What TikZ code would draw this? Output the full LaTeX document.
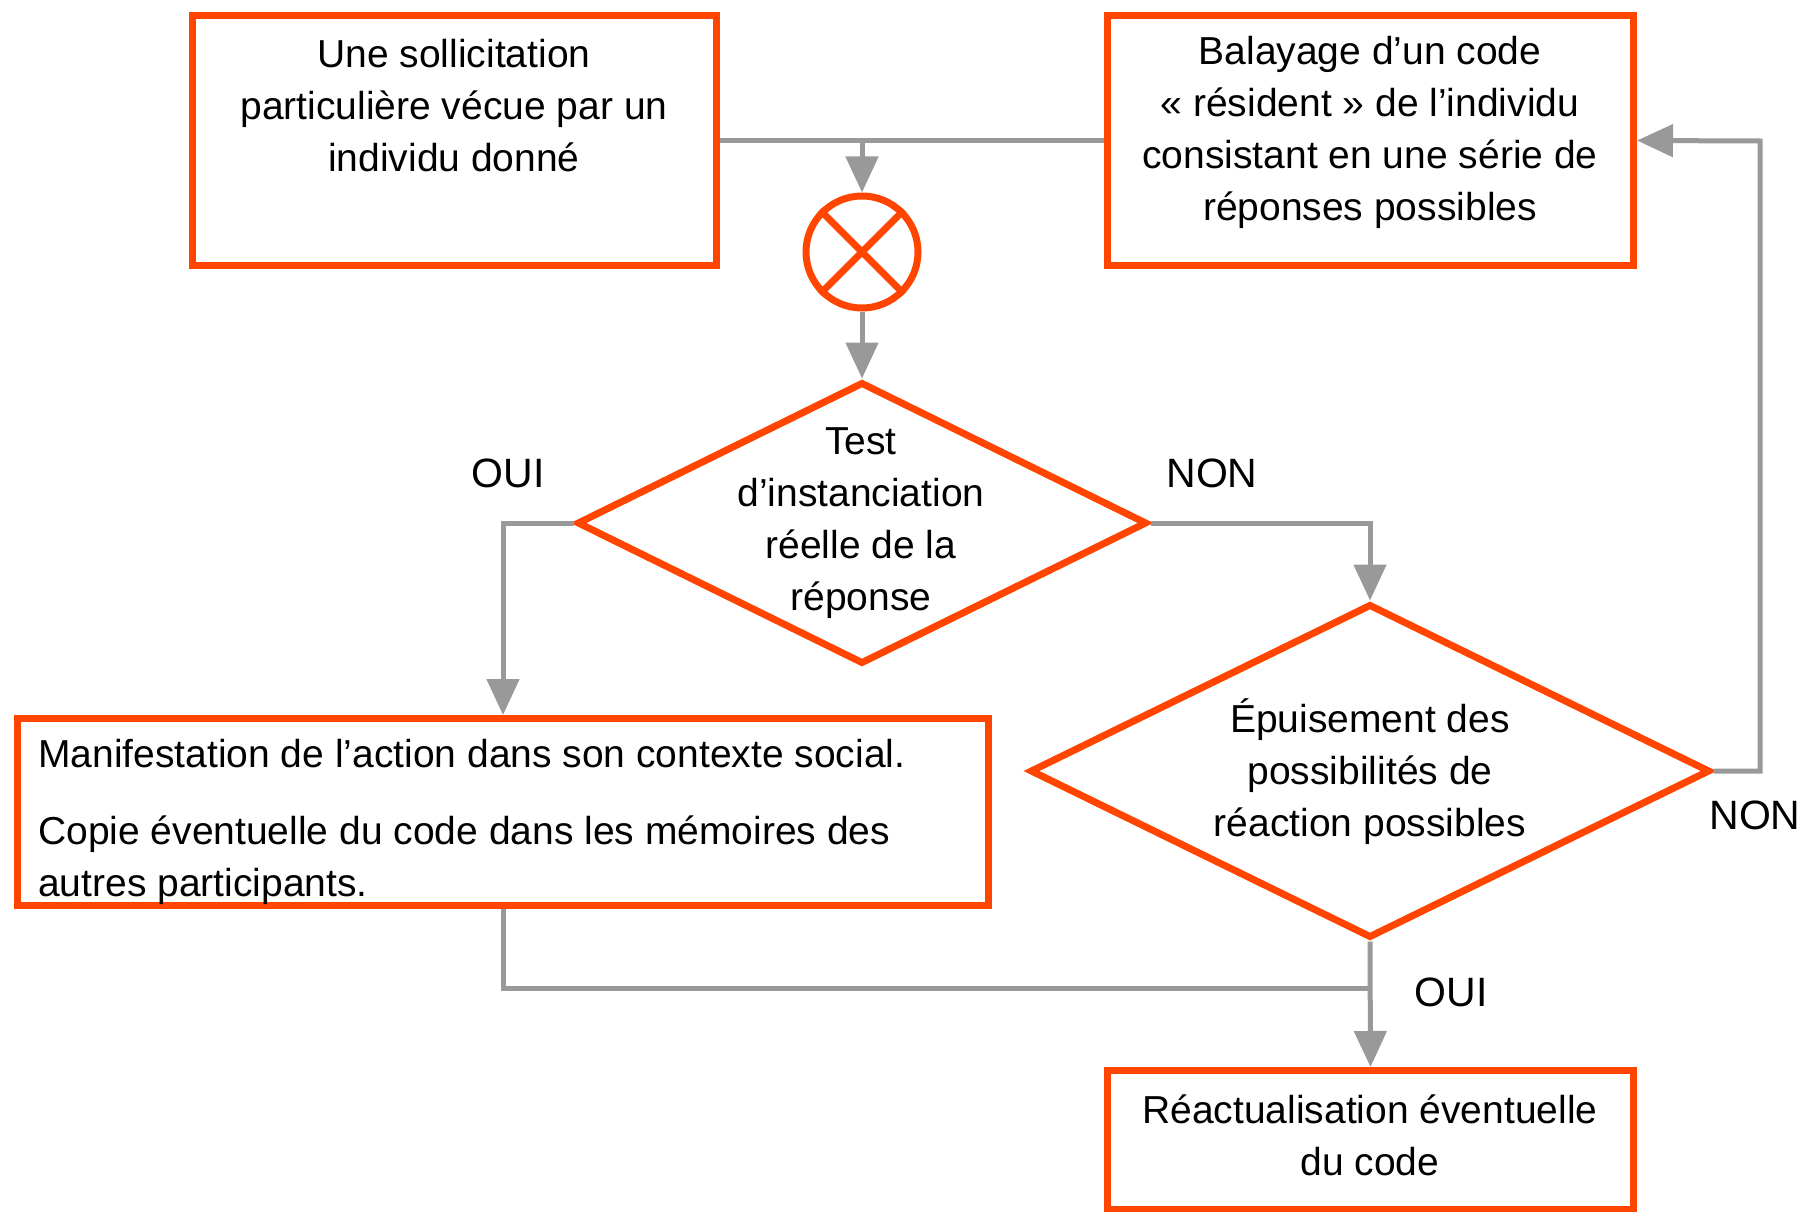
\documentclass[tikz,border=0pt]{standalone}
\usepackage{fontspec}
\setmainfont{Liberation Sans}
\usetikzlibrary{arrows.meta,shapes.geometric}
\definecolor{flamme}{HTML}{FF4500}
\definecolor{gris}{HTML}{999999}
\tikzset{
  boite/.style={draw=flamme,line width=7pt,rectangle,inner sep=0pt},
  losange/.style={draw=flamme,line width=7pt,diamond,inner sep=0pt},
  trait/.style={draw=gris,line width=5pt},
  fleche/.style={trait,-{Triangle[length=36pt,width=32pt]}},
  texte/.style={inner sep=0pt,align=center,font=\fontsize{39}{52}\selectfont},
  reponse/.style={inner sep=0pt,font=\fontsize{41}{46}\selectfont}
}
\begin{document}
\begin{tikzpicture}[x=1pt,y=-1pt]
      \useasboundingbox (0,0) rectangle (1808,1212);
      \node[boite,minimum width=524pt,minimum height=250pt] (sollic) at (454.5,140.5) {};
      \node[texte] at (454,106) {Une sollicitation\\particulière vécue par un\\individu donné};
      \node[boite,minimum width=526pt,minimum height=250pt] (balay) at (1370.5,140.5) {};
      \node[texte] at (1370,132) {Balayage d’un code\\« résident » de l’individu\\consistant en une série de\\réponses possibles};
      \node[circle,draw=flamme,line width=7pt,minimum size=112pt,inner sep=0pt] (croix) at (862,252) {};
      \draw[flamme,line width=7pt] (croix.north west) -- (croix.south east)
            (croix.north east) -- (croix.south west);
      \node[losange,minimum width=570pt,minimum height=282pt] (test) at (862,523) {};
      \node[texte] at (861,523) {Test\\d’instanciation\\réelle de la\\réponse};
      \node[losange,minimum width=680pt,minimum height=334pt] (epuis) at (1370,771) {};
      \node[texte] at (1370,772) {Épuisement des\\possibilités de\\réaction possibles};
      \node[boite,minimum width=971pt,minimum height=187pt] (manif) at (503,812) {};
      \node[texte,align=left,anchor=west] at (38,822) {Manifestation de l’action dans son contexte social.\\[25pt]Copie éventuelle du code dans les mémoires des\\autres participants.};
      \node[boite,minimum width=526pt,minimum height=139pt] (reactu) at (1370.5,1140) {};
      \node[texte] at (1370,1135) {Réactualisation éventuelle\\du code};
      \node[reponse] (oui1) at (508,473) {OUI};
      \node[reponse] (non1) at (1212,473) {NON};
      \node[reponse] (non2) at (1755,815) {NON};
      \node[reponse] (oui2) at (1451,992) {OUI};
      \coordinate (retour) at (1760,141);
      \coordinate (jonction) at (1370,988);
      \draw[trait] (sollic.east) -- (balay.west);
      \draw[fleche] (croix.north |- sollic.east) -- (croix.north);
      \draw[fleche] (croix.south) -- (test.north);
      \draw[fleche] (test.west) -| (manif.north);
      \draw[fleche] (test.east) -| (epuis.north);
      \draw[fleche] (epuis.east) -| (retour) -- (balay.east);
      \draw[trait] (manif.south) |- (jonction);
      \draw[fleche] (epuis.south) -- (reactu.north);
\end{tikzpicture}
\end{document}
